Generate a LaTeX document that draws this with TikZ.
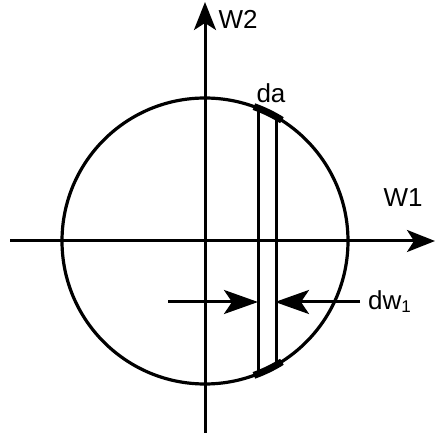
\documentclass[tikz,border=0pt]{standalone}
\usepackage{fontspec}
\setmainfont{Liberation Sans}
\usetikzlibrary{arrows.meta}
\begin{document}
\begin{tikzpicture}[x=1pt,y=1pt,
  axis/.style={line width=3pt,-{Stealth[length=28pt,width=22pt,inset=7pt]}},
  dwarrow/.style={line width=3pt,-{Stealth[length=34pt,width=24pt,inset=8pt]}},
  thin/.style={line width=3pt},
  thick arc/.style={line width=7pt},
  lbl/.style={font=\fontsize{26}{26}\selectfont, inner sep=0pt}]
\useasboundingbox (0,0) rectangle (436,437);
% circle
\node[draw, circle, minimum size=286pt, inner sep=0pt, outer sep=0pt, line width=3.2pt] (c) at (205,196) {};
% axes
\coordinate (hl) at (10,196);
\coordinate (hr) at (435,196);
\coordinate (vb) at (205,4);
\coordinate (vt) at (205,435);
\draw[axis] (hl) -- (hr);
\draw[axis] (vb) -- (vt);
% strip lines
\draw[thin] (c.68.25) -- (c.-68.25);
\draw[thin] (c.60.7) -- (c.-60.7);
% thick arcs
\draw[thick arc] (c.70.4) arc[start angle=70.4, end angle=57.9, radius=143pt];
\draw[thick arc] (c.-70.4) arc[start angle=-70.4, end angle=-57.9, radius=143pt];
% dw arrows
\coordinate (al) at (168,135);
\coordinate (ar) at (360,135);
\coordinate (tl) at (258,135);
\coordinate (tr) at (275,135);
\draw[dwarrow] (al) -- (tl);
\draw[dwarrow] (ar) -- (tr);
% labels
\node[lbl] (w2) at (238,418) {W2};
\node[lbl] (w1) at (403,239) {W1};
\node[lbl] (da) at (271,344) {da};
\node[lbl, anchor=west] (dw) at (368,135) {dw\raisebox{-3pt}{\fontsize{17}{17}\selectfont 1}};
\end{tikzpicture}
\end{document}
